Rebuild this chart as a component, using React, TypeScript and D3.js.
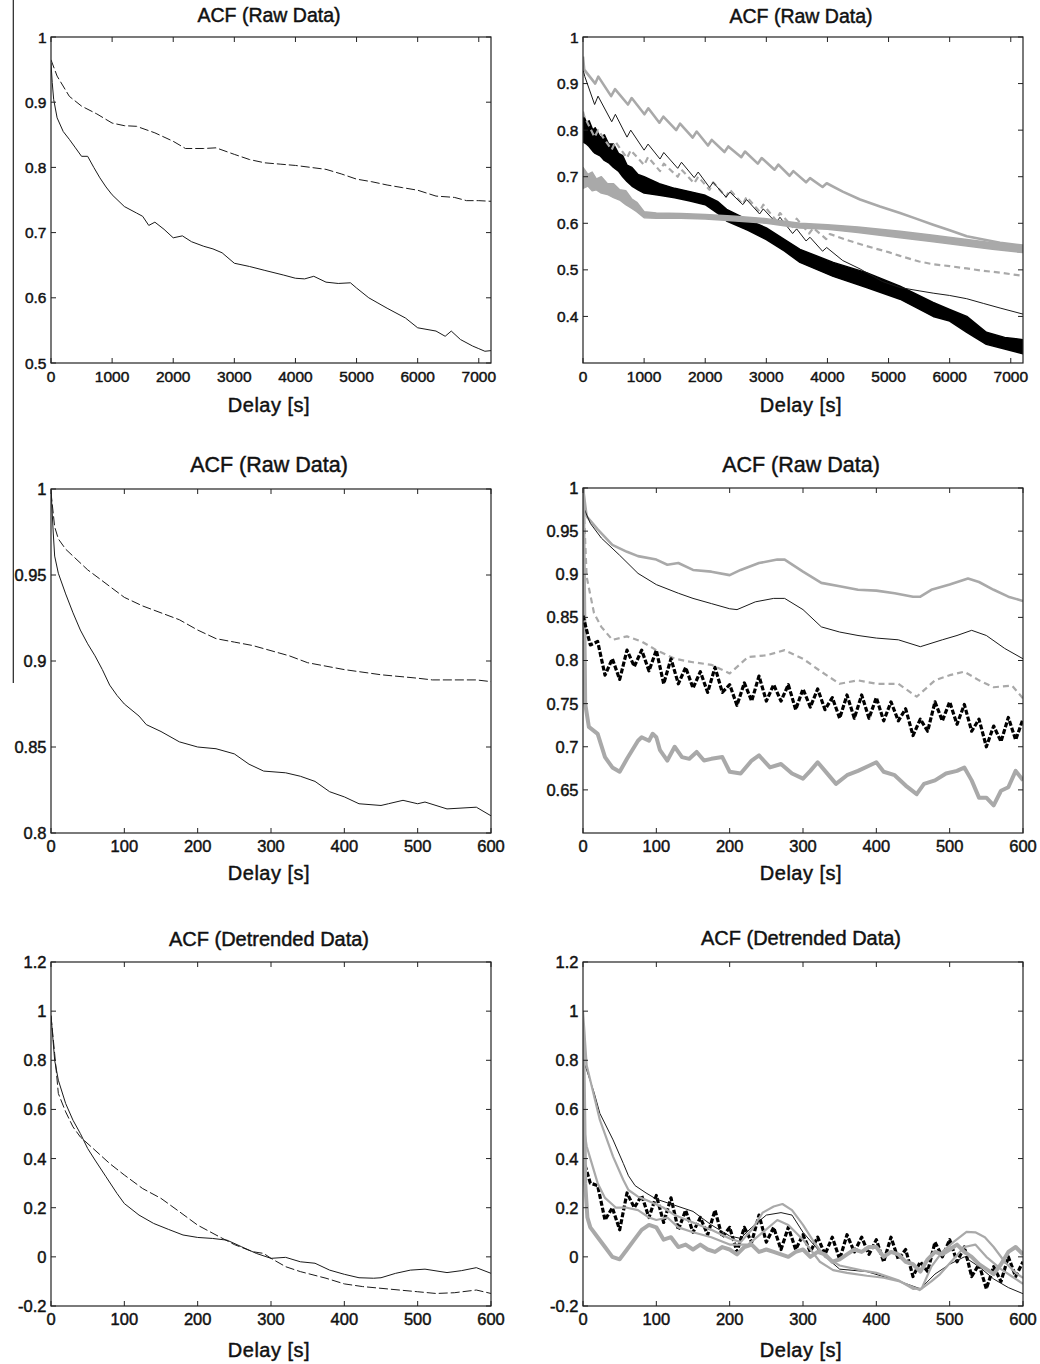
import React from 'react';
import * as d3 from 'd3';

type Pt = [number, number];
type Band = [number, number, number]; // delay, low, high

// ---- ticks ----
const delayTicksLong = [0, 1000, 2000, 3000, 4000, 5000, 6000, 7000];
const delayTicksShort = [0, 100, 200, 300, 400, 500, 600];
const acfTicksTL = [0.5, 0.6, 0.7, 0.8, 0.9, 1];
const acfTicksTR = [0.4, 0.5, 0.6, 0.7, 0.8, 0.9, 1];
const acfTicksML = [0.8, 0.85, 0.9, 0.95, 1];
const acfTicksMR = [0.65, 0.7, 0.75, 0.8, 0.85, 0.9, 0.95, 1];
const acfTicksDetr = [-0.2, 0, 0.2, 0.4, 0.6, 0.8, 1, 1.2];

// shared 10 s delay grid for the noisy series
const delayGrid10 = d3.range(0, 601, 10);

// ---- panel 1: raw, long lags ----
const rawLongSolid: Pt[] = [[0,0.96],[20,0.93],[44,0.904],[100,0.876],[200,0.855],[300,0.843],[400,0.83],[500,0.817],[600,0.817],[700,0.8],[800,0.784],[900,0.77],[1000,0.758],[1200,0.74],[1400,0.73],[1500,0.725],[1600,0.711],[1700,0.716],[1850,0.705],[2000,0.692],[2150,0.695],[2300,0.686],[2500,0.679],[2650,0.675],[2800,0.669],[3000,0.653],[3250,0.648],[3500,0.642],[3800,0.635],[4000,0.63],[4150,0.629],[4300,0.633],[4500,0.624],[4700,0.622],[4900,0.623],[5000,0.615],[5200,0.6],[5350,0.592],[5500,0.584],[5800,0.569],[6000,0.554],[6300,0.549],[6450,0.541],[6550,0.549],[6700,0.536],[6900,0.526],[7000,0.522],[7100,0.518],[7200,0.519]];
const rawLongDashed: Pt[] = [[0,0.965],[100,0.94],[300,0.909],[500,0.894],[750,0.882],[1000,0.868],[1200,0.864],[1400,0.863],[1700,0.853],[2000,0.84],[2200,0.829],[2500,0.829],[2700,0.83],[3000,0.82],[3250,0.812],[3500,0.807],[3750,0.805],[4000,0.803],[4250,0.8],[4500,0.797],[4750,0.79],[5000,0.782],[5250,0.778],[5500,0.773],[5750,0.769],[6000,0.765],[6300,0.756],[6600,0.754],[6800,0.749],[7000,0.749],[7200,0.748]];

// ---- panel 2: raw, long lags, five recordings ----
const rawLongGrayA: Pt[] = [[0,0.958],[20,0.93],[200,0.9],[251,0.915],[460,0.873],[524,0.888],[735,0.855],[797,0.869],[1005,0.834],[1069,0.847],[1250,0.816],[1315,0.829],[1525,0.8],[1588,0.814],[1795,0.784],[1860,0.797],[2045,0.767],[2106,0.779],[2315,0.753],[2378,0.765],[2590,0.742],[2651,0.754],[2860,0.728],[2924,0.74],[3135,0.715],[3197,0.726],[3380,0.702],[3442,0.712],[3650,0.688],[3715,0.697],[3920,0.678],[3988,0.686],[4250,0.668],[4534,0.651],[4860,0.636],[5188,0.622],[5450,0.61],[5730,0.597],[6000,0.585],[6280,0.572],[6550,0.565],[6825,0.558],[7200,0.552]];
const rawLongBlackB: Pt[] = [[0,0.93],[30,0.915],[190,0.855],[246,0.873],[470,0.818],[530,0.834],[720,0.785],[781,0.8],[1000,0.757],[1065,0.77],[1260,0.738],[1322,0.752],[1550,0.718],[1612,0.731],[1820,0.698],[1885,0.71],[2070,0.677],[2130,0.688],[2340,0.656],[2404,0.667],[2615,0.64],[2677,0.651],[2890,0.62],[2950,0.631],[3160,0.601],[3223,0.613],[3430,0.578],[3496,0.588],[3650,0.562],[3715,0.57],[3920,0.54],[3988,0.548],[4250,0.52],[4534,0.502],[4640,0.494],[4900,0.475],[5188,0.462],[5500,0.455],[5730,0.45],[6000,0.445],[6280,0.438],[6550,0.428],[6825,0.418],[7200,0.405]];
const rawLongGrayC: Pt[] = [[0,0.84],[20,0.83],[190,0.785],[246,0.8],[470,0.758],[530,0.775],[720,0.74],[781,0.757],[1000,0.725],[1065,0.742],[1260,0.712],[1322,0.728],[1550,0.7],[1612,0.715],[1820,0.686],[1885,0.7],[2070,0.672],[2130,0.688],[2340,0.657],[2404,0.672],[2615,0.641],[2677,0.657],[2890,0.625],[2950,0.64],[3160,0.606],[3223,0.622],[3430,0.592],[3496,0.61],[3700,0.578],[3770,0.59],[3980,0.566],[4040,0.577],[4300,0.565],[4640,0.551],[5000,0.538],[5188,0.53],[5500,0.518],[5730,0.512],[6000,0.508],[6280,0.503],[6550,0.498],[6825,0.494],[7200,0.487]];
const rawLongBlackBand: Band[] = [[0,0.775,0.835],[60,0.77,0.815],[100,0.765,0.82],[160,0.755,0.8],[200,0.75,0.805],[280,0.745,0.785],[350,0.735,0.79],[420,0.73,0.77],[500,0.72,0.77],[580,0.712,0.75],[650,0.7,0.745],[720,0.69,0.725],[800,0.68,0.72],[900,0.672,0.705],[1000,0.665,0.7],[1250,0.66,0.685],[1500,0.655,0.675],[1750,0.648,0.668],[2000,0.64,0.66],[2200,0.622,0.647],[2350,0.605,0.63],[2700,0.585,0.607],[3000,0.565,0.59],[3300,0.54,0.565],[3551,0.516,0.544],[4095,0.486,0.516],[4640,0.462,0.494],[5188,0.437,0.465],[5730,0.4,0.43],[6000,0.39,0.415],[6280,0.366,0.4],[6600,0.34,0.366],[6900,0.33,0.355],[7200,0.32,0.35]];
const rawLongGrayBand: Band[] = [[0,0.675,0.72],[80,0.68,0.705],[150,0.67,0.71],[220,0.672,0.695],[300,0.665,0.7],[400,0.662,0.685],[500,0.655,0.685],[600,0.65,0.672],[700,0.64,0.67],[800,0.632,0.652],[880,0.625,0.645],[1000,0.612,0.625],[1200,0.611,0.622],[1600,0.611,0.621],[2000,0.609,0.619],[2500,0.605,0.615],[3000,0.6,0.61],[3551,0.59,0.6],[4000,0.587,0.597],[4500,0.58,0.592],[5188,0.569,0.583],[5700,0.561,0.575],[6280,0.551,0.565],[6700,0.544,0.558],[7200,0.537,0.551]];

// ---- panel 3: raw, short lags ----
const rawShortSolid: Pt[] = [[0,1],[3,0.975],[5,0.961],[10,0.951],[20,0.939],[30,0.928],[40,0.918],[50,0.91],[60,0.903],[70,0.895],[80,0.886],[90,0.88],[100,0.875],[120,0.868],[130,0.863],[150,0.859],[175,0.853],[200,0.85],[225,0.849],[250,0.846],[270,0.84],[290,0.836],[320,0.835],[340,0.833],[360,0.83],[380,0.824],[400,0.821],[420,0.817],[450,0.816],[460,0.817],[480,0.819],[500,0.817],[510,0.818],[540,0.814],[580,0.815],[600,0.81]];
const rawShortDashed: Pt[] = [[0,0.998],[5,0.978],[10,0.971],[20,0.965],[50,0.953],[75,0.945],[100,0.937],[125,0.932],[150,0.928],[175,0.924],[200,0.918],[225,0.913],[250,0.911],[275,0.909],[300,0.906],[325,0.903],[350,0.899],[400,0.895],[450,0.892],[500,0.89],[520,0.889],[550,0.889],[580,0.889],[600,0.888]];

// ---- panel 4: raw, short lags, five recordings ----
const rawShortGrayA: Pt[] = [[0,1],[5,0.967],[20,0.952],[40,0.934],[60,0.926],[75,0.921],[100,0.917],[115,0.911],[130,0.913],[150,0.905],[175,0.903],[200,0.899],[215,0.905],[240,0.913],[265,0.917],[275,0.917],[300,0.903],[325,0.89],[350,0.886],[375,0.882],[400,0.881],[425,0.878],[450,0.874],[460,0.874],[475,0.882],[500,0.888],[525,0.895],[540,0.891],[560,0.882],[580,0.874],[600,0.869]];
const rawShortBlackB: Pt[] = [[0,0.979],[10,0.959],[25,0.942],[50,0.922],[75,0.901],[100,0.888],[130,0.878],[150,0.872],[175,0.866],[200,0.86],[210,0.859],[235,0.868],[260,0.872],[275,0.872],[300,0.859],[325,0.839],[350,0.833],[375,0.829],[400,0.826],[430,0.824],[460,0.816],[490,0.824],[510,0.829],[530,0.835],[550,0.829],[575,0.814],[600,0.802]];
const rawShortGrayC: Pt[] = [[0,1],[5,0.897],[15,0.855],[25,0.839],[40,0.824],[60,0.828],[80,0.822],[100,0.812],[125,0.802],[150,0.798],[175,0.795],[200,0.785],[225,0.804],[250,0.806],[275,0.812],[300,0.802],[325,0.787],[350,0.773],[375,0.777],[400,0.773],[430,0.773],[455,0.758],[480,0.777],[500,0.783],[520,0.787],[540,0.777],[560,0.769],[585,0.771],[600,0.756]];
const rawShortBlackD: number[] = [0.852,0.818,0.822,0.783,0.802,0.778,0.812,0.793,0.812,0.788,0.812,0.773,0.802,0.773,0.792,0.768,0.787,0.763,0.792,0.763,0.772,0.748,0.774,0.753,0.782,0.753,0.772,0.753,0.772,0.743,0.767,0.746,0.767,0.743,0.757,0.733,0.76,0.733,0.76,0.733,0.757,0.73,0.752,0.73,0.744,0.713,0.732,0.718,0.752,0.73,0.752,0.726,0.749,0.718,0.732,0.7,0.724,0.706,0.734,0.708,0.732];
const rawShortGrayE: Pt[] = [[0,1],[3,0.75],[8,0.723],[20,0.715],[30,0.688],[40,0.676],[50,0.671],[60,0.686],[70,0.7],[75,0.707],[80,0.711],[90,0.707],[95,0.715],[100,0.711],[105,0.696],[115,0.684],[125,0.7],[135,0.688],[145,0.686],[155,0.694],[165,0.684],[175,0.686],[190,0.688],[200,0.671],[215,0.669],[230,0.684],[240,0.69],[255,0.676],[270,0.68],[285,0.669],[300,0.663],[310,0.672],[320,0.682],[330,0.672],[345,0.657],[360,0.667],[375,0.672],[390,0.678],[400,0.682],[410,0.671],[425,0.667],[440,0.655],[455,0.645],[465,0.657],[480,0.661],[495,0.669],[510,0.672],[520,0.676],[530,0.661],[540,0.641],[550,0.641],[560,0.632],[570,0.649],[580,0.653],[590,0.672],[600,0.661]];

// ---- panel 5: detrended ----
const detrSolid: Pt[] = [[0,0.983],[5,0.8],[10,0.719],[20,0.624],[30,0.556],[40,0.502],[50,0.441],[60,0.394],[75,0.326],[90,0.258],[100,0.217],[120,0.17],[140,0.136],[160,0.112],[180,0.089],[200,0.079],[220,0.075],[240,0.068],[260,0.041],[280,0.014],[300,-0.006],[320,-0.002],[340,-0.02],[360,-0.026],[380,-0.054],[400,-0.071],[420,-0.085],[440,-0.087],[450,-0.085],[470,-0.067],[490,-0.054],[510,-0.05],[540,-0.064],[560,-0.056],[580,-0.044],[600,-0.067]];
const detrDashed: Pt[] = [[0,0.98],[5,0.827],[10,0.665],[20,0.59],[30,0.529],[40,0.488],[60,0.434],[80,0.38],[100,0.333],[125,0.278],[150,0.238],[175,0.184],[200,0.129],[225,0.089],[250,0.05],[275,0.021],[290,0.014],[300,-0.006],[320,-0.04],[340,-0.06],[375,-0.087],[400,-0.11],[425,-0.121],[450,-0.128],[500,-0.142],[525,-0.149],[550,-0.146],[580,-0.135],[600,-0.149]];

// ---- panel 6: detrended, five recordings ----
const detrGrayA: Pt[] = [[0,1],[5,0.78],[23,0.557],[41,0.408],[55,0.313],[62,0.272],[75,0.245],[87,0.23],[110,0.2],[125,0.17],[150,0.14],[175,0.11],[200,0.075],[215,0.06],[230,0.11],[245,0.18],[260,0.205],[272,0.215],[285,0.19],[300,0.13],[315,0.06],[330,0],[350,-0.035],[380,-0.055],[400,-0.065],[430,-0.095],[450,-0.13],[462,-0.128],[475,-0.04],[490,0.02],[505,0.06],[523,0.102],[535,0.1],[548,0.08],[560,0.04],[575,-0.02],[590,-0.065],[600,-0.085]];
const detrBlackB: Pt[] = [[0,0.8],[5,0.76],[15,0.67],[23,0.584],[41,0.476],[55,0.38],[62,0.33],[71,0.29],[86,0.26],[100,0.235],[125,0.21],[150,0.185],[175,0.13],[200,0.085],[215,0.075],[230,0.12],[250,0.17],[270,0.18],[285,0.17],[300,0.1],[325,0.014],[350,-0.05],[387,-0.06],[432,-0.1],[460,-0.13],[480,-0.07],[500,-0.03],[520,0],[540,-0.04],[560,-0.09],[580,-0.125],[600,-0.15]];
const detrGrayC: Pt[] = [[0,0.55],[5,0.45],[10,0.4],[20,0.3],[30,0.24],[45,0.2],[60,0.2],[75,0.19],[90,0.16],[100,0.15],[115,0.16],[130,0.12],[150,0.1],[175,0.08],[200,0.05],[225,0.05],[245,0.1],[265,0.15],[280,0.13],[300,0.07],[323,-0.02],[341,-0.054],[360,-0.065],[387,-0.077],[410,-0.085],[432,-0.1],[459,-0.135],[475,-0.1],[487,-0.07],[505,-0.01],[520,0.04],[535,0.05],[550,0],[570,-0.05],[585,-0.08],[600,-0.11]];
const detrBlackD: number[] = [0.4,0.3,0.29,0.15,0.2,0.11,0.26,0.2,0.25,0.16,0.25,0.14,0.24,0.11,0.19,0.1,0.16,0.09,0.19,0.08,0.12,0.02,0.12,0.06,0.17,0.06,0.12,0.03,0.12,0.03,0.09,0.02,0.08,0.01,0.08,-0.01,0.09,0.02,0.08,0.01,0.07,-0.02,0.08,-0.01,0.03,-0.08,-0.02,-0.06,0.06,0,0.07,-0.02,0.04,-0.08,-0.03,-0.13,-0.04,-0.1,0,-0.08,-0.02];
const detrGrayE: Pt[] = [[0,0.95],[3,0.3],[6,0.16],[10,0.12],[20,0.08],[30,0.04],[40,0],[50,-0.01],[60,0.03],[70,0.07],[80,0.11],[90,0.13],[100,0.12],[110,0.07],[120,0.08],[130,0.04],[140,0.05],[150,0.03],[160,0.05],[170,0.03],[180,0.02],[190,0.04],[200,0.03],[210,0.01],[220,0.04],[230,0.05],[240,0.02],[250,0.03],[260,0.02],[270,0.01],[280,0],[290,0.02],[300,0.03],[310,0],[320,0.02],[330,0.01],[340,-0.02],[350,-0.01],[360,0.01],[370,0.03],[380,0.02],[390,0.04],[400,0.04],[410,0],[420,0.02],[430,0.01],[440,-0.02],[450,-0.03],[460,-0.06],[470,-0.01],[480,0.02],[490,0.01],[500,0.03],[510,0.05],[520,0.02],[530,0],[540,-0.03],[550,-0.05],[560,-0.07],[570,-0.03],[580,0.02],[590,0.04],[600,0.01]];

const withGrid = (vals: number[]): Pt[] => vals.map((v, i) => [delayGrid10[i], v]);

const BLACK = '#1a1a1a';
const GRAY = '#a9a9a9';
const FONT = '"Liberation Sans", Arial, Helvetica, sans-serif';

interface Series { pts?: Pt[]; band?: Band[]; stroke: string; width?: number; dash?: string; }
interface PanelCfg {
  id: string; left: number; top: number; width: number; height: number;
  xMax: number; yDomain: [number, number]; xTicks: number[]; yTicks: number[];
  title: string; titleY: number; labelY: number; titleSize: number; tickSize: number;
  series: Series[];
}

const panels: PanelCfg[] = [
  { id: 'p1', left: 51, top: 37, width: 440, height: 326, xMax: 7200, yDomain: [0.5, 1],
    xTicks: delayTicksLong, yTicks: acfTicksTL, title: 'ACF (Raw Data)', titleY: 22, labelY: 412,
    titleSize: 19.5, tickSize: 15.5,
    series: [
      { pts: rawLongDashed, stroke: BLACK, width: 1, dash: '9,3' },
      { pts: rawLongSolid, stroke: BLACK, width: 1 },
    ] },
  { id: 'p2', left: 583, top: 37, width: 440, height: 326, xMax: 7200, yDomain: [0.3, 1],
    xTicks: delayTicksLong, yTicks: acfTicksTR, title: 'ACF (Raw Data)', titleY: 23, labelY: 412,
    titleSize: 19.5, tickSize: 15.5,
    series: [
      { band: rawLongBlackBand, stroke: '#000' },
      { pts: rawLongGrayC, stroke: GRAY, width: 2.2, dash: '6,4' },
      { pts: rawLongBlackB, stroke: BLACK, width: 1 },
      { pts: rawLongGrayA, stroke: GRAY, width: 2.6 },
      { band: rawLongGrayBand, stroke: GRAY },
    ] },
  { id: 'p3', left: 51, top: 489, width: 440, height: 344, xMax: 600, yDomain: [0.8, 1],
    xTicks: delayTicksShort, yTicks: acfTicksML, title: 'ACF (Raw Data)', titleY: 472, labelY: 880,
    titleSize: 21.5, tickSize: 16.5,
    series: [
      { pts: rawShortDashed, stroke: BLACK, width: 1, dash: '9,3' },
      { pts: rawShortSolid, stroke: BLACK, width: 1 },
    ] },
  { id: 'p4', left: 583, top: 488, width: 440, height: 345, xMax: 600, yDomain: [0.6, 1],
    xTicks: delayTicksShort, yTicks: acfTicksMR, title: 'ACF (Raw Data)', titleY: 472, labelY: 880,
    titleSize: 21.5, tickSize: 16.5,
    series: [
      { pts: rawShortGrayA, stroke: GRAY, width: 2.6 },
      { pts: rawShortBlackB, stroke: BLACK, width: 1 },
      { pts: rawShortGrayC, stroke: GRAY, width: 2.2, dash: '6,4' },
      { pts: rawShortGrayE, stroke: GRAY, width: 4 },
      { pts: withGrid(rawShortBlackD), stroke: '#000', width: 3.2, dash: '5,2' },
    ] },
  { id: 'p5', left: 51, top: 962, width: 440, height: 344, xMax: 600, yDomain: [-0.2, 1.2],
    xTicks: delayTicksShort, yTicks: acfTicksDetr, title: 'ACF (Detrended Data)', titleY: 946, labelY: 1357,
    titleSize: 20, tickSize: 16.5,
    series: [
      { pts: detrDashed, stroke: BLACK, width: 1, dash: '9,3' },
      { pts: detrSolid, stroke: BLACK, width: 1 },
    ] },
  { id: 'p6', left: 583, top: 962, width: 440, height: 344, xMax: 600, yDomain: [-0.2, 1.2],
    xTicks: delayTicksShort, yTicks: acfTicksDetr, title: 'ACF (Detrended Data)', titleY: 945, labelY: 1357,
    titleSize: 20, tickSize: 16.5,
    series: [
      { pts: withGrid(detrBlackD), stroke: '#000', width: 3.2, dash: '5,2' },
      { pts: detrBlackB, stroke: BLACK, width: 1 },
      { pts: detrGrayA, stroke: GRAY, width: 2.2 },
      { pts: detrGrayC, stroke: GRAY, width: 2.2 },
      { pts: detrGrayE, stroke: GRAY, width: 4 },
    ] },
];

function Panel({ cfg }: { cfg: PanelCfg }) {
  const { left, top, width, height } = cfg;
  const x = d3.scaleLinear().domain([0, cfg.xMax]).range([left, left + width]);
  const y = d3.scaleLinear().domain(cfg.yDomain).range([top + height, top]);
  const line = d3.line<Pt>().x(d => x(d[0])).y(d => y(d[1]));
  const area = d3.area<Band>().x(d => x(d[0])).y0(d => y(d[1])).y1(d => y(d[2]));
  const tick = 5;
  const cx = left + width / 2 - 2;
  return (
    <g>
      <defs>
        <clipPath id={`clip-${cfg.id}`}>
          <rect x={left} y={top} width={width} height={height} />
        </clipPath>
      </defs>
      <g clipPath={`url(#clip-${cfg.id})`}>
        {cfg.series.map((s, i) =>
          s.band ? (
            <path key={i} d={area(s.band) || ''} fill={s.stroke} stroke={s.stroke} strokeWidth={1.5} strokeLinejoin="round" />
          ) : (
            <path key={i} d={line(s.pts!) || ''} fill="none" stroke={s.stroke}
              strokeWidth={s.width} strokeDasharray={s.dash} strokeLinejoin="round" />
          )
        )}
      </g>
      <rect x={left} y={top} width={width} height={height} fill="none" stroke="#222" strokeWidth={1.2} />
      {cfg.xTicks.map(v => (
        <g key={`x${v}`}>
          <line x1={x(v)} x2={x(v)} y1={top + height} y2={top + height - tick} stroke="#222" />
          <line x1={x(v)} x2={x(v)} y1={top} y2={top + tick} stroke="#222" />
          <text x={x(v)} y={top + height + 19} textAnchor="middle" fontSize={cfg.tickSize}>{String(v)}</text>
        </g>
      ))}
      {cfg.yTicks.map(v => (
        <g key={`y${v}`}>
          <line x1={left} x2={left + tick} y1={y(v)} y2={y(v)} stroke="#222" />
          <line x1={left + width} x2={left + width - tick} y1={y(v)} y2={y(v)} stroke="#222" />
          <text x={left - 4.5} y={y(v)} dy="0.36em" textAnchor="end" fontSize={cfg.tickSize}>{String(v)}</text>
        </g>
      ))}
      <text x={cx} y={cfg.titleY} textAnchor="middle" fontSize={cfg.titleSize}>{cfg.title}</text>
      <text x={cx} y={cfg.labelY} textAnchor="middle" fontSize={20} letterSpacing={0.5}>Delay [s]</text>
    </g>
  );
}

export default function App() {
  return (
    <svg width={1040} height={1364} style={{ position: 'absolute', left: 0, top: 0, background: '#fff' }}
      fontFamily={FONT} fill="#111" stroke="none">
      <rect width={1040} height={1364} fill="#fff" />
      <line x1={13.3} x2={13.3} y1={0} y2={683} stroke="#222" strokeWidth={1.2} />
      <g style={{ paintOrder: 'stroke' }}>
        {panels.map(p => <Panel key={p.id} cfg={p} />)}
      </g>
      <style>{`text { stroke: #111; stroke-width: 0.45px; }`}</style>
    </svg>
  );
}
